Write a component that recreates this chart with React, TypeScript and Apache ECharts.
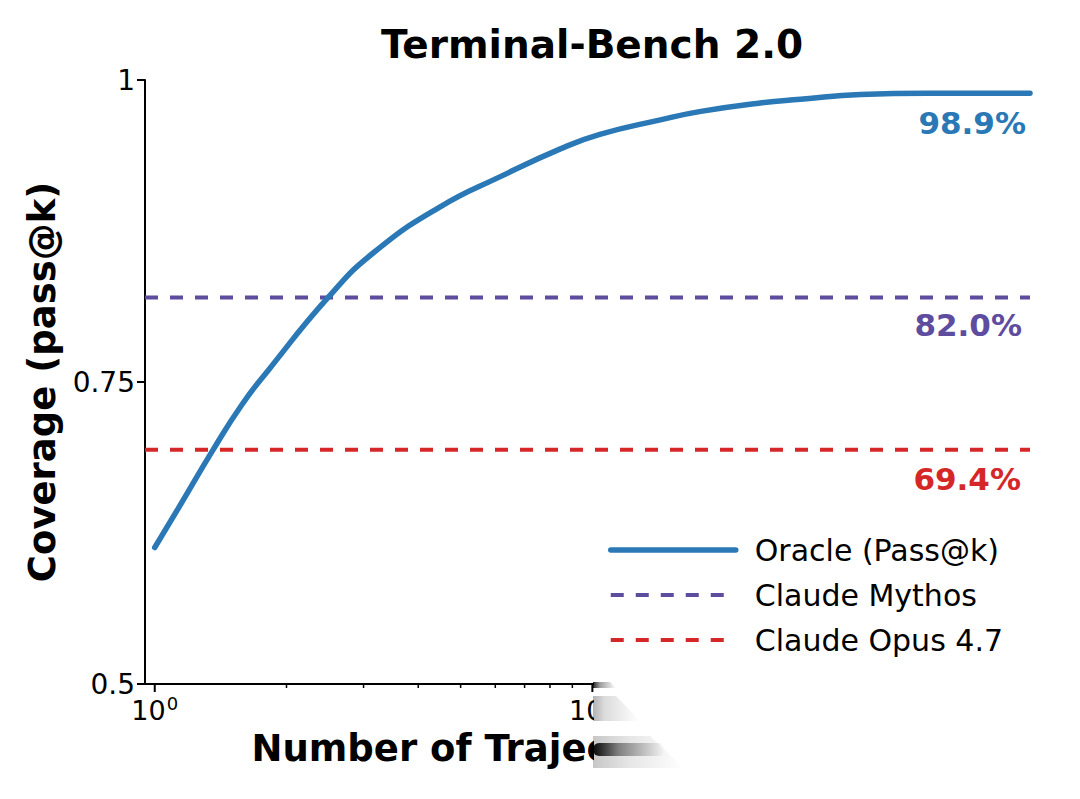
import { useEffect, useRef } from "react";
import * as echarts from "echarts";

// Oracle pass@k curve (k on a log axis)
const kValues = [1, 1.13, 1.36, 1.58, 1.82, 2.49, 3.16, 4.49, 6.16, 8.45, 10.4, 14.3, 17.7, 24.2, 29.9, 41, 58, 100];
const oracleCoverage = [0.613, 0.645, 0.694, 0.731, 0.76, 0.82, 0.857, 0.895, 0.92, 0.943, 0.955, 0.967, 0.974, 0.981, 0.984, 0.988, 0.989, 0.989];

const xExtent = [0.95, 100];
const mythosScore = 0.82;
const opusScore = 0.694;

const seriesNames = ["Oracle (Pass@k)", "Claude Mythos", "Claude Opus 4.7"];
const endLabels = ["98.9%", "82.0%", "69.4%"];

const majorTicks = [1, 10, 100];
const minorTicks = [2, 3, 4, 5, 6, 7, 8, 9, 20, 30, 40, 50, 60, 70, 80, 90];

const BLUE = "#2a78b5";
const PURPLE = "#5e4c9f";
const RED = "#d62728";
const FONT = "DejaVu Sans";
const DASH = [13, 12];

function isPowerOfTen(v: number) {
  const l = Math.log10(v);
  return Math.abs(l - Math.round(l)) < 1e-6;
}

export default function App() {
  const chartRef = useRef<HTMLDivElement>(null);

  useEffect(() => {
    if (!chartRef.current) return;
    const chart = echarts.init(chartRef.current, null, { renderer: "svg" });

    const tickData = [
      ...majorTicks.map((v) => [v, 1]),
      ...minorTicks.map((v) => [v, 0]),
    ];

    const endLabel = (text: string, color: string, offset: number[]) => ({
      show: true,
      formatter: text,
      color,
      fontFamily: FONT,
      fontWeight: "bold",
      fontSize: 31,
      align: "right",
      verticalAlign: "middle",
      distance: 0,
      offset,
    });

    const smear = (alpha: number, mid: number) =>
      new echarts.graphic.LinearGradient(0, 0, 1, 0, [
        { offset: 0, color: `rgba(0,0,0,${alpha})` },
        { offset: mid, color: `rgba(0,0,0,${alpha * 0.45})` },
        { offset: 1, color: "rgba(0,0,0,0)" },
      ]);

    const option: any = {
      animation: false,
      textStyle: { fontFamily: FONT },
      title: {
        text: "Terminal-Bench 2.0",
        left: 587,
        top: 20,
        textAlign: "center",
        textStyle: { fontFamily: FONT, fontWeight: "bold", fontSize: 39, color: "#000" },
      },
      grid: { left: 145, top: 80, width: 885, height: 604 },
      legend: {
        orient: "vertical",
        left: 603,
        top: 530,
        itemWidth: 125,
        itemHeight: 14,
        itemGap: 15,
        itemStyle: { opacity: 0 },
        data: [
          { name: seriesNames[0], lineStyle: { width: 5.5, type: "solid" } },
          { name: seriesNames[1], lineStyle: { width: 4, type: DASH } },
          { name: seriesNames[2], lineStyle: { width: 4, type: DASH } },
        ],
        textStyle: { fontFamily: FONT, fontSize: 30, color: "#000", padding: [0, 0, 0, 14] },
      },
      xAxis: {
        type: "log",
        logBase: 10,
        min: xExtent[0],
        max: xExtent[1],
        name: "Number of Trajectories Sampled",
        nameLocation: "middle",
        nameGap: 46,
        nameTextStyle: { fontFamily: FONT, fontWeight: "bold", fontSize: 37, color: "#000" },
        axisLine: { show: true, lineStyle: { color: "#000", width: 2 } },
        axisTick: { show: false },
        splitLine: { show: false },
        axisLabel: {
          margin: 10,
          formatter: (v: number) =>
            isPowerOfTen(v) ? `{b|10}{s|${Math.round(Math.log10(v))}}` : "",
          rich: {
            b: { fontFamily: FONT, fontSize: 27, color: "#000", lineHeight: 30, verticalAlign: "bottom" },
            s: { fontFamily: FONT, fontSize: 18, color: "#000", lineHeight: 30, verticalAlign: "top", padding: [0, 0, 0, 1] },
          },
        },
      },
      yAxis: {
        type: "value",
        min: 0.5,
        max: 1,
        interval: 0.25,
        name: "Coverage (pass@k)",
        nameLocation: "middle",
        nameRotate: 90,
        nameGap: 84,
        nameTextStyle: { fontFamily: FONT, fontWeight: "bold", fontSize: 37, color: "#000" },
        axisLine: { show: true, lineStyle: { color: "#000", width: 2 } },
        axisTick: { show: true, length: 8, lineStyle: { color: "#000", width: 2 } },
        splitLine: { show: false },
        axisLabel: {
          margin: 10,
          fontFamily: FONT,
          fontSize: 28,
          color: "#000",
          formatter: (v: number) => (v === 1 ? "1" : String(v)),
        },
      },
      series: [
        {
          name: seriesNames[0],
          type: "line",
          data: kValues.map((k, i) => [k, oracleCoverage[i]]),
          showSymbol: false,
          symbol: "none",
          smooth: 0.5,
          color: BLUE,
          lineStyle: { color: BLUE, width: 5.5, cap: "round" },
          endLabel: endLabel(endLabels[0], BLUE, [-4, 30]),
          z: 5,
        },
        {
          name: seriesNames[1],
          type: "line",
          data: xExtent.map((x) => [x, mythosScore]),
          showSymbol: false,
          symbol: "none",
          color: PURPLE,
          lineStyle: { color: PURPLE, width: 4, type: DASH },
          endLabel: endLabel(endLabels[1], PURPLE, [-8, 28]),
          z: 3,
        },
        {
          name: seriesNames[2],
          type: "line",
          data: xExtent.map((x) => [x, opusScore]),
          showSymbol: false,
          symbol: "none",
          color: RED,
          lineStyle: { color: RED, width: 4, type: DASH },
          endLabel: endLabel(endLabels[2], RED, [-9, 29]),
          z: 3,
        },
        {
          name: "xticks",
          type: "custom",
          clip: false,
          silent: true,
          data: tickData,
          renderItem: (_params: any, api: any) => {
            const p = api.coord([api.value(0), 0.5]);
            const major = api.value(1) === 1;
            return {
              type: "line",
              shape: { x1: p[0], y1: p[1], x2: p[0], y2: p[1] + (major ? 8 : 4) },
              style: { stroke: "#000", lineWidth: major ? 2 : 1.5 },
            };
          },
          z: 2,
        },
      ],
      // the page-curl smear that blanks the lower right of the reference
      graphic: [
        {
          type: "polygon",
          z: 100,
          silent: true,
          shape: { points: [[594, 681], [1080, 681], [1080, 799], [594, 799]] },
          style: { fill: "#fff" },
        },
        {
          type: "polygon",
          z: 101,
          silent: true,
          shape: { points: [[593, 682], [610, 682], [616, 688], [593, 688]] },
          style: { fill: smear(0.85, 0.3) },
        },
        {
          type: "polygon",
          z: 101,
          silent: true,
          shape: { points: [[593, 696], [616, 696], [640, 721], [593, 721]] },
          style: { fill: smear(0.3, 0.25) },
        },
        {
          type: "polygon",
          z: 101,
          silent: true,
          shape: { points: [[593, 736], [650, 736], [684, 768], [593, 768]] },
          style: { fill: smear(0.22, 0.4) },
        },
        {
          type: "rect",
          z: 102,
          silent: true,
          shape: { x: 593, y: 743, width: 72, height: 13, r: 6 },
          style: { fill: smear(0.95, 0.35) },
        },
      ],
    };

    chart.setOption(option);
    return () => chart.dispose();
  }, []);

  return (
    <div
      ref={chartRef}
      style={{ position: "fixed", left: 0, top: 0, width: "1080px", height: "799px", background: "#fff" }}
    />
  );
}
